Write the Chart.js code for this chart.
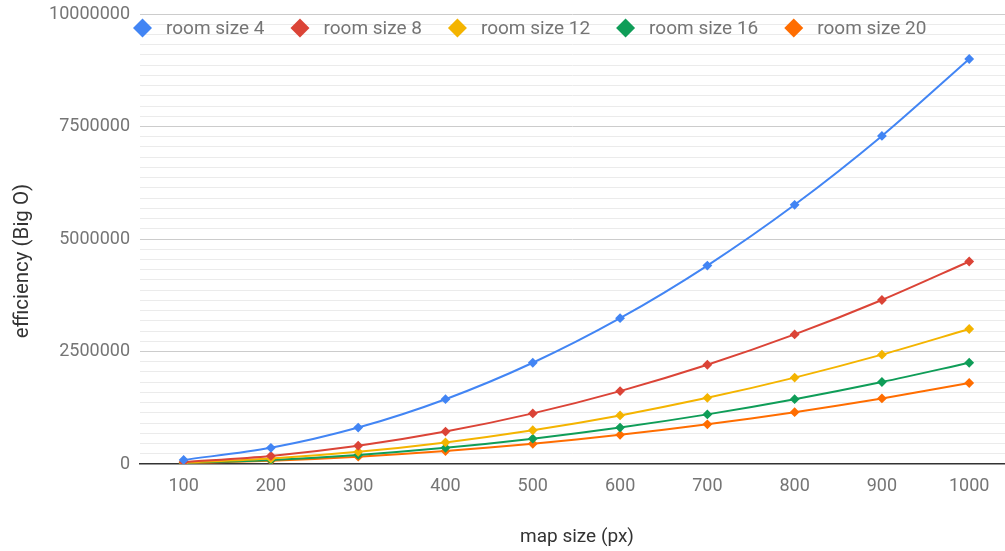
<!DOCTYPE html>
<html>
<head>
<meta charset="utf-8">
<script src="https://cdn.jsdelivr.net/npm/chart.js@4.4.1/dist/chart.umd.min.js"></script>
<style>
  html, body { margin: 0; padding: 0; background: #ffffff; overflow: hidden; }
  canvas { display: block; }
</style>
</head>
<body>
<canvas id="chart" width="1005" height="551"></canvas>
<script>
// Map sizes along the x axis (px)
const mapSizes = [100, 200, 300, 400, 500, 600, 700, 800, 900, 1000];

// Big O efficiency for each room size
const roomSize4  = [90000, 360000, 810000, 1440000, 2250000, 3240000, 4410000, 5760000, 7290000, 9000000];
const roomSize8  = [45000, 180000, 405000, 720000, 1125000, 1620000, 2205000, 2880000, 3645000, 4500000];
const roomSize12 = [30000, 120000, 270000, 480000, 750000, 1080000, 1470000, 1920000, 2430000, 3000000];
const roomSize16 = [22500, 90000, 202500, 360000, 562500, 810000, 1102500, 1440000, 1822500, 2250000];
const roomSize20 = [18000, 72000, 162000, 288000, 450000, 648000, 882000, 1152000, 1458000, 1800000];

const seriesLabels = ['room size 4', 'room size 8', 'room size 12', 'room size 16', 'room size 20'];
const seriesColors = ['#4285F4', '#DB4437', '#F4B400', '#0F9D58', '#FF6D00'];
const seriesValues = [roomSize4, roomSize8, roomSize12, roomSize16, roomSize20];

// Labelled y ticks; each interval is split into 11 minor gridlines
const yMajorTicks = [0, 2500000, 5000000, 7500000, 10000000];
const MINOR_PER_MAJOR = 11;

const xAxisTitle = 'map size (px)';
const yAxisTitle = 'efficiency (Big O)';

const FONT = 'Roboto, "Noto Sans", Arial, sans-serif';

const datasets = seriesLabels.map((label, s) => ({
  label,
  data: mapSizes.map((x, i) => ({ x, y: seriesValues[s][i] })),
  borderColor: seriesColors[s],
  backgroundColor: seriesColors[s],
  borderWidth: 2,
  pointStyle: 'rectRot',
  pointRadius: 3.5,
  pointHoverRadius: 3.5,
  tension: 0.3,
  fill: false
}));

// Legend inside the top of the plot with diamond swatches, plus axis titles
const decorations = {
  id: 'decorations',
  afterDraw(chart) {
    const ctx = chart.ctx;
    ctx.save();

    // legend
    const y = 28;
    const size = 19;
    let x = 133;
    ctx.font = '19px ' + FONT;
    ctx.textBaseline = 'middle';
    ctx.textAlign = 'left';
    chart.data.datasets.forEach(ds => {
      ctx.fillStyle = ds.borderColor;
      ctx.beginPath();
      ctx.moveTo(x, y);
      ctx.lineTo(x + size / 2, y - size / 2);
      ctx.lineTo(x + size, y);
      ctx.lineTo(x + size / 2, y + size / 2);
      ctx.closePath();
      ctx.fill();
      const tx = x + size + 14;
      ctx.fillStyle = '#757575';
      ctx.fillText(ds.label, tx, y + 1);
      x = tx + ctx.measureText(ds.label).width + 26;
    });

    // axis titles
    ctx.fillStyle = '#333333';
    ctx.textAlign = 'center';
    ctx.font = '19px ' + FONT;
    ctx.fillText(xAxisTitle, 577, 537);

    ctx.translate(23, 261);
    ctx.rotate(-Math.PI / 2);
    ctx.font = '20.5px ' + FONT;
    ctx.fillText(yAxisTitle, 0, 0);

    ctx.restore();
  }
};

new Chart(document.getElementById('chart'), {
  type: 'line',
  data: { datasets },
  plugins: [decorations],
  options: {
    responsive: false,
    animation: false,
    devicePixelRatio: 1,
    layout: { autoPadding: false, padding: { top: 14, right: 0, bottom: 0, left: 0 } },
    plugins: {
      legend: { display: false },
      tooltip: { enabled: false }
    },
    scales: {
      x: {
        type: 'linear',
        min: 50,
        max: 1041,
        afterBuildTicks(scale) {
          scale.ticks = mapSizes.map(v => ({ value: v }));
        },
        afterFit(scale) {
          scale.height = 87;
          scale.paddingLeft = 0;
          scale.paddingRight = 0;
        },
        grid: { display: false, drawTicks: false },
        border: { display: true, color: '#333333', width: 1.5 },
        ticks: {
          autoSkip: false,
          maxRotation: 0,
          padding: 12,
          color: '#757575',
          font: { family: FONT, size: 18 },
          callback(value) { return String(value); }
        }
      },
      y: {
        type: 'linear',
        min: yMajorTicks[0],
        max: yMajorTicks[yMajorTicks.length - 1],
        afterBuildTicks(scale) {
          const step = (yMajorTicks[1] - yMajorTicks[0]) / MINOR_PER_MAJOR;
          const ticks = [];
          for (let m = 0; m < yMajorTicks.length - 1; m++) {
            for (let k = 0; k < MINOR_PER_MAJOR; k++) {
              ticks.push({ value: yMajorTicks[m] + k * step });
            }
          }
          ticks.push({ value: yMajorTicks[yMajorTicks.length - 1] });
          scale.ticks = ticks;
        },
        afterFit(scale) {
          scale.width = 140;
          scale.paddingTop = 0;
          scale.paddingBottom = 0;
        },
        grid: {
          drawTicks: false,
          lineWidth: 1,
          color(ctx) {
            if (ctx.index === 0) return 'rgba(0,0,0,0)';
            return ctx.index % MINOR_PER_MAJOR === 0 ? '#cccccc' : '#ebebeb';
          }
        },
        border: { display: false },
        ticks: {
          autoSkip: false,
          padding: 10,
          color: '#757575',
          font: { family: FONT, size: 18 },
          callback(value, index) {
            return index % MINOR_PER_MAJOR === 0 ? String(Math.round(value)) : '';
          }
        }
      }
    }
  }
});
</script>
</body>
</html>
